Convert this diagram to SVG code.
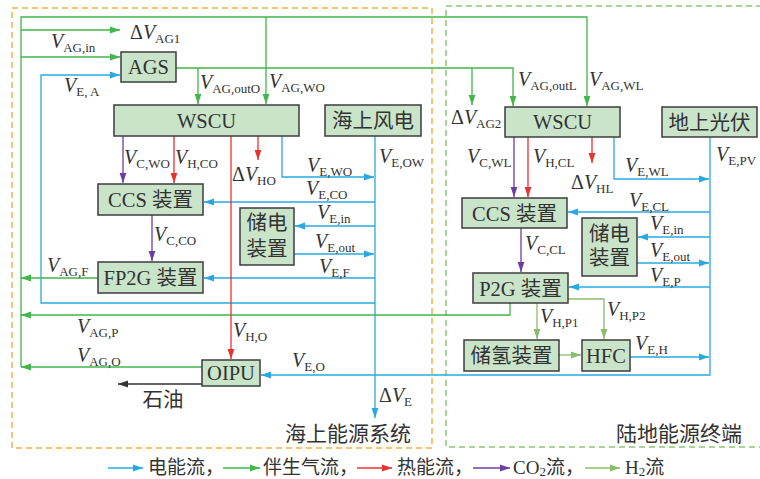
<svg xmlns="http://www.w3.org/2000/svg" width="760" height="479" viewBox="0 0 760 479">
<style>
text { font-family: "Liberation Serif", "Noto Sans CJK SC", serif; fill:#333; }
.bx { fill:#c9e4c9; stroke:#3c3c3c; stroke-width:1.5; }
.nt { font-size:20.5px; text-anchor:middle; }
.lb { font-size:20px; }
.v { font-style:italic; }
.s { font-size:13px; }
.ln { fill:none; stroke-width:1.3; }
.b { stroke:#29a9e1; }
.g { stroke:#41b649; }
.r { stroke:#e8322f; }
.p { stroke:#6b3fa0; }
.h { stroke:#8dbb6c; }
.k { stroke:#333; }
.b.a { marker-end:url(#mB); }
.g.a { marker-end:url(#mG); }
.r.a { marker-end:url(#mR); }
.p.a { marker-end:url(#mP); }
.h.a { marker-end:url(#mH); }
.k.a { marker-end:url(#mK); }
.lg { font-size:19px; }
</style>
<defs>
<marker id="mB" markerWidth="10" markerHeight="8" refX="10" refY="4" orient="auto" markerUnits="userSpaceOnUse"><path d="M0,0.6 L10,4 L0,7.4 z" fill="#29a9e1"/></marker>
<marker id="mG" markerWidth="10" markerHeight="8" refX="10" refY="4" orient="auto" markerUnits="userSpaceOnUse"><path d="M0,0.6 L10,4 L0,7.4 z" fill="#41b649"/></marker>
<marker id="mR" markerWidth="10" markerHeight="8" refX="10" refY="4" orient="auto" markerUnits="userSpaceOnUse"><path d="M0,0.6 L10,4 L0,7.4 z" fill="#e8322f"/></marker>
<marker id="mP" markerWidth="10" markerHeight="8" refX="10" refY="4" orient="auto" markerUnits="userSpaceOnUse"><path d="M0,0.6 L10,4 L0,7.4 z" fill="#6b3fa0"/></marker>
<marker id="mH" markerWidth="10" markerHeight="8" refX="10" refY="4" orient="auto" markerUnits="userSpaceOnUse"><path d="M0,0.6 L10,4 L0,7.4 z" fill="#8dbb6c"/></marker>
<marker id="mK" markerWidth="10" markerHeight="8" refX="10" refY="4" orient="auto" markerUnits="userSpaceOnUse"><path d="M0,0.6 L10,4 L0,7.4 z" fill="#333"/></marker>
</defs>
<rect width="760" height="479" fill="#fff"/>

<!-- regions -->
<g id="regions">
<rect x="12" y="8" width="420" height="440" fill="none" stroke="#f5b342" stroke-width="1.5" stroke-dasharray="6,4"/>
<path d="M762,6 H446 V447 H762" fill="none" stroke="#8cc870" stroke-width="1.5" stroke-dasharray="6,4"/>
<text x="348" y="441" font-size="21" text-anchor="middle">海上能源系统</text>
<text x="679" y="441" font-size="21" text-anchor="middle">陆地能源终端</text>
</g>

<!-- connectors -->
<g id="connectors">
<!-- gas -->
<path class="ln g a" d="M21,367 V17 H587 V106"/>
<path class="ln g a" d="M21,30 H120"/>
<path class="ln g a" d="M21,57 H120"/>
<path class="ln g a" d="M266,17 V104"/>
<path class="ln g a" d="M176,68 H513 V106"/>
<path class="ln g a" d="M198,68 V104"/>
<path class="ln g a" d="M472,68 V105"/>
<path class="ln g a" d="M98,278 H21"/>
<path class="ln g a" d="M510,303 V315 H21"/>
<path class="ln g a" d="M202,367 H21"/>
<!-- electricity -->
<path class="ln b a" d="M375,303 H41 V75 H120"/>
<path class="ln b a" d="M375,136 V418"/>
<path class="ln b a" d="M282,136 V177 H374"/>
<path class="ln b a" d="M375,202 H204"/>
<path class="ln b a" d="M375,226 H295"/>
<path class="ln b a" d="M294,254 H374"/>
<path class="ln b a" d="M375,278 H204"/>
<path class="ln b a" d="M710,137 V375 H261"/>
<path class="ln b a" d="M614,137 V179 H709"/>
<path class="ln b a" d="M710,212 H568"/>
<path class="ln b a" d="M710,237 H638"/>
<path class="ln b a" d="M637,263 H709"/>
<path class="ln b a" d="M710,287 H569"/>
<path class="ln b a" d="M630,357 H709"/>
<!-- heat -->
<path class="ln r a" d="M174,136 V183"/>
<path class="ln r a" d="M231,136 V359"/>
<path class="ln r a" d="M258,136 V160"/>
<path class="ln r a" d="M528,137 V197"/>
<path class="ln r a" d="M592,137 V163"/>
<!-- CO2 -->
<path class="ln p a" d="M123,136 V183"/>
<path class="ln p a" d="M152,215 V261"/>
<path class="ln p a" d="M514,137 V197"/>
<path class="ln p a" d="M521,228 V272"/>
<!-- H2 -->
<path class="ln h a" d="M537,303 V339"/>
<path class="ln h a" d="M568,299 H604 V339"/>
<path class="ln h a" d="M559,355 H581"/>
<!-- oil -->
<path class="ln k a" d="M202,384 H118"/>
</g>

<!-- nodes -->
<g id="ags"><rect class="bx" x="121" y="52" width="55" height="30"/><text class="nt" x="148.5" y="74">AGS</text></g>
<g id="wscu-o"><rect class="bx" x="114" y="105" width="185" height="31"/><text class="nt" x="206.5" y="127.5">WSCU</text></g>
<g id="wind"><rect class="bx" x="325" y="105" width="96" height="31"/><text class="nt" x="373" y="128">海上风电</text></g>
<g id="ccs-o"><rect class="bx" x="98" y="184" width="105" height="31"/><text class="nt" x="150.5" y="207">CCS 装置</text></g>
<g id="store-o"><rect class="bx" x="240" y="208" width="54" height="57"/><text class="nt" x="267" y="230">储电</text><text class="nt" x="267" y="256">装置</text></g>
<g id="fp2g"><rect class="bx" x="98" y="262" width="105" height="31"/><text class="nt" x="150.5" y="285">FP2G 装置</text></g>
<g id="oipu"><rect class="bx" x="202" y="360" width="58" height="26"/><text class="nt" x="231" y="380">OIPU</text></g>
<g id="wscu-l"><rect class="bx" x="505" y="107" width="115" height="30"/><text class="nt" x="562.5" y="129">WSCU</text></g>
<g id="pv"><rect class="bx" x="662" y="107" width="95" height="30"/><text class="nt" x="709.5" y="129.5">地上光伏</text></g>
<g id="ccs-l"><rect class="bx" x="462" y="198" width="105" height="30"/><text class="nt" x="514.5" y="220.5">CCS 装置</text></g>
<g id="store-l"><rect class="bx" x="582" y="218" width="55" height="58"/><text class="nt" x="609.5" y="240.5">储电</text><text class="nt" x="609.5" y="265">装置</text></g>
<g id="p2g"><rect class="bx" x="473" y="273" width="95" height="30"/><text class="nt" x="520.5" y="295.5">P2G 装置</text></g>
<g id="h2store"><rect class="bx" x="464" y="340" width="95" height="31"/><text class="nt" x="511.5" y="363">储氢装置</text></g>
<g id="hfc"><rect class="bx" x="582" y="340" width="48" height="31"/><text class="nt" x="606" y="362.5">HFC</text></g>

<!-- labels -->
<g id="labels" class="lb">
<text x="130" y="39">Δ<tspan class="v">V</tspan><tspan class="s" dy="4">AG1</tspan></text>
<text x="51" y="48"><tspan class="v">V</tspan><tspan class="s" dy="4">AG,in</tspan></text>
<text x="64" y="92"><tspan class="v">V</tspan><tspan class="s" dy="4">E, A</tspan></text>
<text x="200" y="89"><tspan class="v">V</tspan><tspan class="s" dy="4">AG,outO</tspan></text>
<text x="269" y="88"><tspan class="v">V</tspan><tspan class="s" dy="4">AG,WO</tspan></text>
<text x="451" y="124">Δ<tspan class="v">V</tspan><tspan class="s" dy="4">AG2</tspan></text>
<text x="518" y="86"><tspan class="v">V</tspan><tspan class="s" dy="4">AG,outL</tspan></text>
<text x="589" y="86"><tspan class="v">V</tspan><tspan class="s" dy="4">AG,WL</tspan></text>
<text x="124" y="164"><tspan class="v">V</tspan><tspan class="s" dy="4">C,WO</tspan></text>
<text x="175" y="164"><tspan class="v">V</tspan><tspan class="s" dy="4">H,CO</tspan></text>
<text x="232" y="181">Δ<tspan class="v">V</tspan><tspan class="s" dy="4">HO</tspan></text>
<text x="307" y="172"><tspan class="v">V</tspan><tspan class="s" dy="4">E,WO</tspan></text>
<text x="379" y="163"><tspan class="v">V</tspan><tspan class="s" dy="4">E,OW</tspan></text>
<text x="306" y="195"><tspan class="v">V</tspan><tspan class="s" dy="4">E,CO</tspan></text>
<text x="317" y="219"><tspan class="v">V</tspan><tspan class="s" dy="4">E,in</tspan></text>
<text x="315" y="248"><tspan class="v">V</tspan><tspan class="s" dy="4">E,out</tspan></text>
<text x="319" y="273"><tspan class="v">V</tspan><tspan class="s" dy="4">E,F</tspan></text>
<text x="154" y="241"><tspan class="v">V</tspan><tspan class="s" dy="4">C,CO</tspan></text>
<text x="47" y="272"><tspan class="v">V</tspan><tspan class="s" dy="4">AG,F</tspan></text>
<text x="77" y="333"><tspan class="v">V</tspan><tspan class="s" dy="4">AG,P</tspan></text>
<text x="77" y="362"><tspan class="v">V</tspan><tspan class="s" dy="4">AG,O</tspan></text>
<text x="233" y="337"><tspan class="v">V</tspan><tspan class="s" dy="4">H,O</tspan></text>
<text x="292" y="367"><tspan class="v">V</tspan><tspan class="s" dy="4">E,O</tspan></text>
<text x="379" y="402">Δ<tspan class="v">V</tspan><tspan class="s" dy="4">E</tspan></text>
<text x="467" y="163"><tspan class="v">V</tspan><tspan class="s" dy="4">C,WL</tspan></text>
<text x="533" y="163"><tspan class="v">V</tspan><tspan class="s" dy="4">H,CL</tspan></text>
<text x="571" y="189">Δ<tspan class="v">V</tspan><tspan class="s" dy="4">HL</tspan></text>
<text x="525" y="250"><tspan class="v">V</tspan><tspan class="s" dy="4">C,CL</tspan></text>
<text x="625" y="172"><tspan class="v">V</tspan><tspan class="s" dy="4">E,WL</tspan></text>
<text x="716" y="161"><tspan class="v">V</tspan><tspan class="s" dy="4">E,PV</tspan></text>
<text x="629" y="207"><tspan class="v">V</tspan><tspan class="s" dy="4">E,CL</tspan></text>
<text x="650" y="230"><tspan class="v">V</tspan><tspan class="s" dy="4">E,in</tspan></text>
<text x="650" y="257"><tspan class="v">V</tspan><tspan class="s" dy="4">E,out</tspan></text>
<text x="650" y="282"><tspan class="v">V</tspan><tspan class="s" dy="4">E,P</tspan></text>
<text x="540" y="323"><tspan class="v">V</tspan><tspan class="s" dy="4">H,P1</tspan></text>
<text x="607" y="316"><tspan class="v">V</tspan><tspan class="s" dy="4">H,P2</tspan></text>
<text x="635" y="350"><tspan class="v">V</tspan><tspan class="s" dy="4">E,H</tspan></text>
<text x="163" y="407" font-size="20.5" text-anchor="middle">石油</text>
</g>

<!-- legend -->
<g id="legend">
<path class="ln b a" d="M108,468 H143"/>
<text class="lg" x="148" y="474">电能流，</text>
<path class="ln g a" d="M223,468 H260"/>
<text class="lg" x="263" y="474">伴生气流，</text>
<path class="ln r a" d="M357,468 H392"/>
<text class="lg" x="397" y="474">热能流，</text>
<path class="ln p a" d="M473,468 H510"/>
<text class="lg" x="513" y="474">CO<tspan font-size="13" dy="2">2</tspan><tspan dy="-2">流，</tspan></text>
<path class="ln h a" d="M585,468 H620"/>
<text class="lg" x="625" y="474">H<tspan font-size="13" dy="2">2</tspan><tspan dy="-2">流</tspan></text>
</g>
</svg>
